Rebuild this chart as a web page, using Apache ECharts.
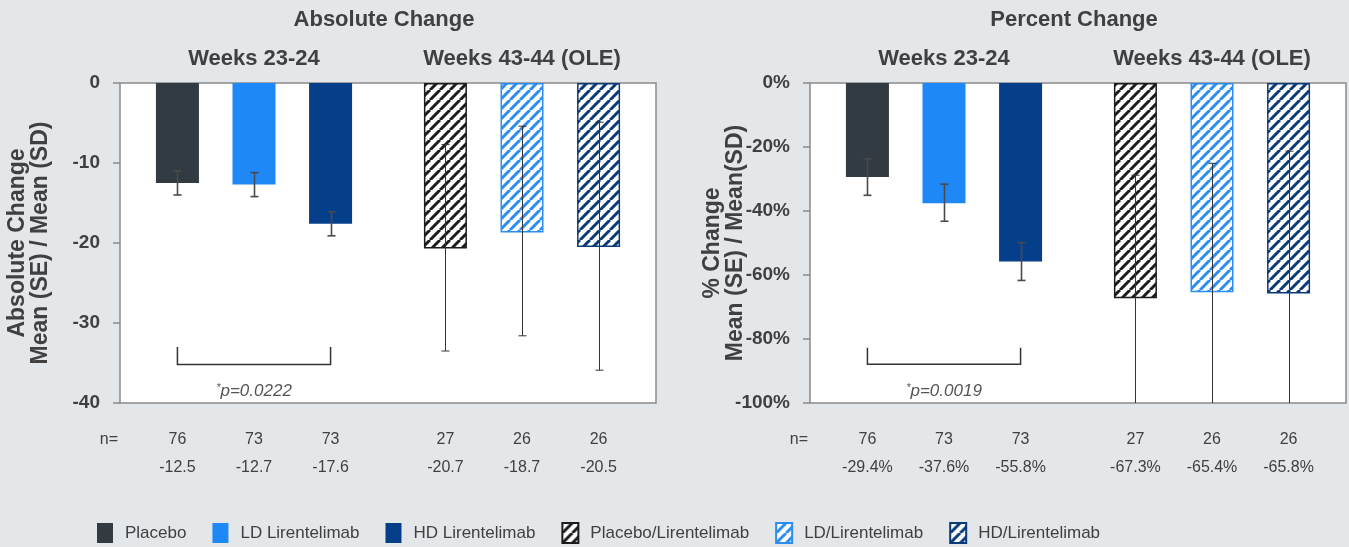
<!DOCTYPE html>
<html><head><meta charset="utf-8">
<script src="https://cdn.jsdelivr.net/npm/echarts@6/dist/echarts.min.js"></script>
<style>html,body{margin:0;padding:0;background:#e4e7ea}#c{width:1349px;height:547px}</style>
</head><body><div id="c"></div>
<script>
// ---------- data ----------
const groups = ['Placebo', 'LD Lirentelimab', 'HD Lirentelimab', 'Placebo/Lirentelimab', 'LD/Lirentelimab', 'HD/Lirentelimab'];
const periods = ['Weeks 23-24', 'Weeks 43-44 (OLE)'];
const panelTitles = ['Absolute Change', 'Percent Change'];
const axisNames = ['Absolute Change\nMean (SE) / Mean (SD)', '% Change\nMean (SE) / Mean(SD)'];
const nValues = [76, 73, 73, 27, 26, 26];
const absMeans = [-12.5, -12.7, -17.6, -20.7, -18.7, -20.5];
const absLow = [-14.0, -14.2, -19.1, -33.5, -31.6, -35.9];
const absHigh = [-11.0, -11.2, -16.1, -7.7, -5.4, -4.9];
const pctMeans = [-29.4, -37.6, -55.8, -67.3, -65.4, -65.8];
const pctLow = [-35.1, -43.2, -61.7, -105.8, -105.7, -110.3];
const pctHigh = [-23.7, -31.6, -49.9, -28.8, -25.1, -21.3];
const absTicks = [0, -10, -20, -30, -40];
const pctTicks = [0, -20, -40, -60, -80, -100];
// bracket: [fromGroup, toGroup, tickTopY, lineY, textY]
const absBracket = [0, 2, -33.0, -35.2, -38.5];
const pctBracket = [0, 2, -82.7, -87.9, -96.2];
const absSig = 'p=0.0222';
const pctSig = 'p=0.0019';

// ---------- layout / style ----------
const FONT = "'Liberation Sans', Arial, Helvetica, sans-serif";
const TXT = '#404040';
const slots = [1, 3, 5, 8, 10, 12];
const slotCount = 14;
const headerSlots = [3, 10];
const gridLeft = [120, 810], gridTop = 83, gridW = 536, gridH = 320;
const solidColors = ['#313b41', '#1e88f6', '#063f89'];
const hatchColors = ['#1c1c1c', '#2b8cf2', '#0b3a78'];

function hatch(color) {
  const s = 10;
  const c = document.createElement('canvas');
  c.width = s; c.height = s;
  const ctx = c.getContext('2d');
  ctx.fillStyle = '#ffffff';
  ctx.fillRect(0, 0, s, s);
  ctx.strokeStyle = color;
  ctx.lineWidth = 3;
  ctx.beginPath();
  for (let k = -1; k <= 1; k++) {
    ctx.moveTo(k * s, s);
    ctx.lineTo(k * s + s, 0);
  }
  ctx.stroke();
  return c;
}
const fills = solidColors.concat(hatchColors.map(c => ({ image: hatch(c), repeat: 'repeat' })));

const panels = [
  { means: absMeans, low: absLow, high: absHigh, ticks: absTicks, unit: '', bracket: absBracket, sig: absSig },
  { means: pctMeans, low: pctLow, high: pctHigh, ticks: pctTicks, unit: '%', bracket: pctBracket, sig: pctSig }
];

const slotNames = Array.from({ length: slotCount }, (_, i) => 's' + i);

function errRender(params, api) {
  const x = api.value(0), lo = api.value(1), hi = api.value(2);
  const cs = params.coordSys;
  const pHi = api.coord([x, hi]), pLo = api.coord([x, lo]);
  const yMin = cs.y, yMax = cs.y + cs.height;
  const clamp = v => Math.max(yMin, Math.min(yMax, v));
  const cx = Math.round(pHi[0]) + 0.5;
  const se = params.dataIndex < 3;
  const style = { stroke: se ? '#4a4a4a' : '#333333', lineWidth: se ? 1.6 : 1 };
  const children = [{ type: 'line', shape: { x1: cx, y1: clamp(pHi[1]), x2: cx, y2: clamp(pLo[1]) }, style }];
  [pHi[1], pLo[1]].forEach(y => {
    if (y >= yMin && y <= yMax) children.push({ type: 'line', shape: { x1: cx - 4, y1: y, x2: cx + 4, y2: y }, style });
  });
  return { type: 'group', children };
}

function bracketRender(sig) {
  return function (params, api) {
    const a = api.coord([api.value(0), api.value(2)]);
    const b = api.coord([api.value(1), api.value(3)]);
    const t = api.coord([(api.value(0) + api.value(1)) / 2, api.value(4)]);
    return {
      type: 'group', children: [
        { type: 'polyline', shape: { points: [[a[0], a[1]], [a[0], b[1]], [b[0], b[1]], [b[0], a[1]]] }, style: { stroke: '#333', lineWidth: 1.5, fill: null } },
        { type: 'text', style: {
            text: '{s|*}{p|' + sig + '}', x: t[0], y: t[1], align: 'center', verticalAlign: 'middle',
            rich: {
              s: { fontSize: 11, fontStyle: 'italic', fontFamily: FONT, fill: '#555', verticalAlign: 'top', padding: [0, 0, 6, 0] },
              p: { fontSize: 17, fontStyle: 'italic', fontFamily: FONT, fill: '#555' }
            }
          } }
      ]
    };
  };
}

const grid = [], xAxis = [], yAxis = [], series = [], graphic = [];
panels.forEach((p, pi) => {
  grid.push({ left: gridLeft[pi], top: gridTop, width: gridW, height: gridH, show: true, backgroundColor: '#ffffff', borderColor: '#8a8a8a', borderWidth: 1.5 });
  const labels = slotNames.map(() => '');
  slots.forEach((s, i) => { labels[s] = nValues[i] + '\n' + p.means[i].toFixed(1) + p.unit; });
  xAxis.push({
    type: 'category', gridIndex: pi, data: slotNames, position: 'bottom',
    axisLine: { show: false }, axisTick: { show: false },
    axisLabel: { interval: 0, margin: 23, fontSize: 16, lineHeight: 28, color: TXT, fontFamily: FONT, formatter: (v, idx) => labels[idx] }
  });
  const hdr = slotNames.map(() => '');
  headerSlots.forEach((s, i) => { hdr[s] = periods[i]; });
  xAxis.push({
    type: 'category', gridIndex: pi, data: slotNames, position: 'top',
    axisLine: { show: false }, axisTick: { show: false },
    axisLabel: { interval: 0, margin: 13, fontSize: 22, fontWeight: 'bold', color: TXT, fontFamily: FONT, formatter: (v, idx) => hdr[idx] }
  });
  const step = p.ticks[0] - p.ticks[1];
  yAxis.push({
    type: 'value', gridIndex: pi, min: p.ticks[p.ticks.length - 1], max: p.ticks[0], interval: step,
    name: axisNames[pi], nameLocation: 'middle', nameRotate: 90, nameGap: pi === 0 ? 68 : 63, nameMoveOverlap: false,
    nameTextStyle: { fontSize: 23, fontWeight: 'bold', color: TXT, fontFamily: FONT, lineHeight: 23, align: 'center' },
    axisLine: { show: false }, splitLine: { show: false },
    axisTick: { show: true, length: 7, lineStyle: { color: '#8a8a8a', width: 1.5 } },
    axisLabel: { margin: 20, fontSize: 19, fontWeight: 'bold', color: TXT, fontFamily: FONT, formatter: v => v + p.unit }
  });
  groups.forEach((g, i) => {
    const data = slotNames.map(() => null);
    data[slots[i]] = p.means[i];
    series.push({
      type: 'bar', name: g, xAxisIndex: pi * 2, yAxisIndex: pi, barWidth: 43, barGap: '-100%',
      data,
      itemStyle: i < 3 ? { color: fills[i] } : { color: fills[i], borderColor: hatchColors[i - 3], borderWidth: 1.5 }
    });
  });
  series.push({
    type: 'custom', xAxisIndex: pi * 2, yAxisIndex: pi, z: 5, renderItem: errRender, silent: true,
    encode: { x: 0, y: [1, 2] },
    data: groups.map((g, i) => [slots[i], p.low[i], p.high[i]])
  });
  const br = p.bracket;
  series.push({
    type: 'custom', xAxisIndex: pi * 2, yAxisIndex: pi, z: 5, renderItem: bracketRender(p.sig), silent: true,
    encode: { x: [0, 1], y: [2, 3] },
    data: [[slots[br[0]], slots[br[1]], br[2], br[3], br[4]]]
  });
  graphic.push({ type: 'text', style: { text: panelTitles[pi], x: gridLeft[pi] + gridW / 2 - 4, y: 20, align: 'center', verticalAlign: 'middle', font: 'bold 22px ' + FONT, fill: TXT } });
  graphic.push({ type: 'text', style: { text: 'n=', x: gridLeft[pi] - 2, y: 440, align: 'right', verticalAlign: 'middle', font: '16px ' + FONT, fill: TXT } });
});

const chart = echarts.init(document.getElementById('c'), null, { renderer: 'canvas' });
chart.setOption({
  backgroundColor: '#e4e7ea',
  animation: false,
  textStyle: { fontFamily: FONT },
  grid, xAxis, yAxis, series, graphic,
  legend: {
    data: groups, left: 92, top: 517, icon: 'rect', itemWidth: 16, itemHeight: 20, itemGap: 26,
    textStyle: { fontSize: 17, color: TXT, fontFamily: FONT, padding: [0, 0, 0, 7] }
  }
});
</script></body></html>
